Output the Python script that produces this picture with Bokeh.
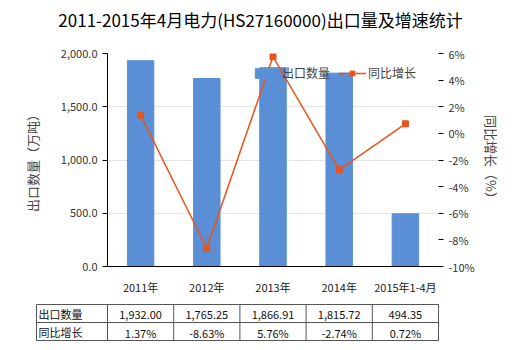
from bokeh.plotting import figure
from bokeh.layouts import column
from bokeh.models import (FactorRange, Range1d, LinearAxis, FixedTicker, NumeralTickFormatter,
                          PrintfTickFormatter, Legend, LegendItem)
from bokeh.core.properties import value
from bokeh.embed import file_html
from bokeh.resources import INLINE

cats = ["2011年", "2012年", "2013年", "2014年", "2015年1-4月"]
export = [1932.00, 1765.25, 1866.91, 1815.72, 494.35]
growth = [1.37, -8.63, 5.76, -2.74, 0.72]
row_names = ["出口数量", "同比增长"]
left_ticks = [0, 500, 1000, 1500, 2000]
right_ticks = [-10, -8, -6, -4, -2, 0, 2, 4, 6]
title_text = "2011-2015年4月电力(HS27160000)出口量及增速统计"

FONT = "Noto Sans CJK SC"
BLUE = "#5a8fd6"
ORANGE = "#e8541c"


def bare(fig):
    fig.outline_line_color = None
    fig.xgrid.grid_line_color = None
    fig.ygrid.grid_line_color = None
    try:
        fig.frame_align = False
    except Exception:
        pass


# title strip
hp = figure(width=520, height=40, x_range=Range1d(0, 1), y_range=Range1d(40, 0),
            output_backend="svg", toolbar_location=None, min_border=0,
            x_axis_location=None, y_axis_location=None)
bare(hp)
hp.text(x=[0.5], y=[19], text=[title_text], text_font=value(FONT), text_font_size="17px",
        text_align="center", text_baseline="middle", text_color="#000000")

# main chart
p = figure(width=520, height=257, x_range=FactorRange(*cats), y_range=Range1d(0, 2000),
           output_backend="svg", toolbar_location=None,
           min_border_left=107, min_border_right=82, min_border_top=13, min_border_bottom=22)
p.outline_line_color = None
p.xgrid.grid_line_color = None
p.ygrid.grid_line_color = "#e4e4e4"
try:
    p.frame_align = False
except Exception:
    pass

p.extra_y_ranges = {"g": Range1d(-10, 6)}

bars = p.vbar(x=cats, top=export, width=0.4, color=BLUE)
ln = p.line(x=cats, y=growth, y_range_name="g", line_color=ORANGE, line_width=1.5)
pts = p.scatter(x=cats, y=growth, y_range_name="g", marker="square", size=6,
                fill_color=ORANGE, line_color=ORANGE)

ya = p.yaxis[0]
ya.ticker = FixedTicker(ticks=left_ticks)
ya.formatter = NumeralTickFormatter(format="0,0.0")
ya.axis_label = "出口数量（万吨）"
ya.axis_label_text_font = FONT
ya.axis_label_text_font_style = "normal"
ya.axis_label_text_font_size = "13px"
ya.axis_label_standoff = 16
ya.minor_tick_line_color = None
ya.major_tick_in = 0
ya.major_tick_out = 5
ya.axis_line_color = "#000000"
ya.major_tick_line_color = "#000000"
ya.major_label_text_font = FONT
ya.major_label_text_font_size = "11px"
ya.major_label_text_color = "#333333"

ra = LinearAxis(y_range_name="g", ticker=FixedTicker(ticks=right_ticks),
                formatter=PrintfTickFormatter(format="%d%%"))
ra.axis_label = "同比增长（%）"
ra.axis_label_text_font = FONT
ra.axis_label_text_font_style = "normal"
ra.axis_label_text_font_size = "13px"
ra.axis_label_standoff = 4
ra.axis_line_color = None
ra.minor_tick_line_color = None
ra.major_tick_in = 0
ra.major_tick_out = 5
ra.major_tick_line_color = "#000000"
ra.major_label_text_font = FONT
ra.major_label_text_font_size = "11px"
ra.major_label_text_color = "#333333"
p.add_layout(ra, "right")

xa = p.xaxis[0]
xa.axis_line_color = "#000000"
xa.major_tick_line_color = None
xa.minor_tick_line_color = None
xa.major_label_text_font = FONT
xa.major_label_text_font_size = "11px"
xa.major_label_text_color = "#222222"
xa.major_label_standoff = 6

legend = Legend(items=[LegendItem(label="出口数量", renderers=[bars]),
                       LegendItem(label="同比增长", renderers=[ln, pts])],
                orientation="horizontal", location=(145, 185),
                background_fill_alpha=0, border_line_color=None,
                label_text_font=FONT, label_text_font_size="12px",
                glyph_width=28, glyph_height=12, spacing=8, padding=0, margin=0,
                label_standoff=2)
p.add_layout(legend)

# data table below the chart
unit = 331 / len(cats)
tp = figure(width=520, height=53, x_range=Range1d(-107 / unit, len(cats) + 82 / unit),
            y_range=Range1d(53, 0), output_backend="svg", toolbar_location=None,
            min_border=0, x_axis_location=None, y_axis_location=None)
bare(tp)

left = -71 / unit
tops = [7, 25, 43]
tp.segment(x0=[left] * 3, x1=[len(cats)] * 3, y0=tops, y1=tops, line_color="#555555", line_width=1)
vx = [left] + list(range(len(cats) + 1))
tp.segment(x0=vx, x1=vx, y0=[tops[0]] * len(vx), y1=[tops[-1]] * len(vx), line_color="#555555", line_width=1)

tp.text(x=[left + 2 / unit] * 2, y=[16, 34], text=row_names, text_font=value(FONT),
        text_font_size="11px", text_align="left", text_baseline="middle", text_color="#111111")
xs = [i + 0.5 for i in range(len(cats))]
tp.text(x=xs, y=[17] * len(cats), text=[f"{v:,.2f}" for v in export], text_font=value(FONT),
        text_font_size="11px", text_align="center", text_baseline="middle", text_color="#111111")
tp.text(x=xs, y=[35] * len(cats), text=[f"{g:.2f}%" for g in growth], text_font=value(FONT),
        text_font_size="11px", text_align="center", text_baseline="middle", text_color="#111111")

layout = column(hp, p, tp, spacing=0)
open("out.html", "w").write(file_html(layout, INLINE))
